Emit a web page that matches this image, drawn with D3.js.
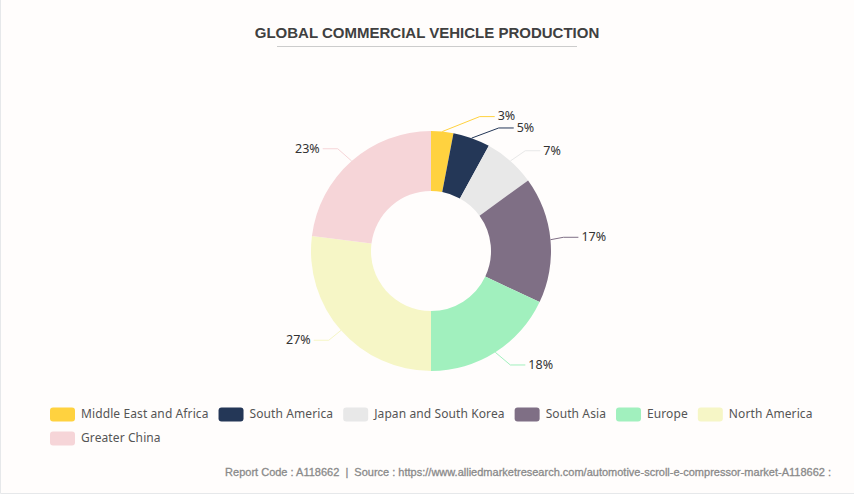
<!DOCTYPE html>
<html lang="en">
<head>
    <meta charset="UTF-8">
    <title>Global Commercial Vehicle Production</title>
    <style>
        html, body {
            margin: 0;
            padding: 0;
            background-color: #FFFDFC;
        }
        svg { display: block; }
        text { font-family: 'Noto Sans', sans-serif; }
        #title { font-family: 'Liberation Sans', sans-serif; font-weight: bold; font-size: 15px; fill: #404040; }
        #source { font-family: 'Liberation Sans', sans-serif; font-size: 11px; fill: #8a8a8a; stroke: #8a8a8a; stroke-width: 0.3px; }
        .pct { font-size: 12.5px; fill: #333; }
        .legend-label { font-size: 12px; fill: #555; letter-spacing: 0.1px; }
    </style>
</head>
<body>
    <div id="graph"></div>
    <script src="https://d3js.org/d3.v7.min.js"></script>
    <script>
        const regions = ["Middle East and Africa", "South America", "Japan and South Korea", "South Asia", "Europe", "North America", "Greater China"];
        const shares = [3, 5, 7, 17, 18, 27, 23];
        const colors = ["#FFD23F", "#243757", "#E8E8E8", "#7F6F85", "#A1F0BE", "#F6F6C6", "#F6D5D8"];

        const width = 854, height = 494;
        const cx = 431, cy = 251, outer = 120, inner = 60;
        const lineOut = 15, lineFlat = 15;
        // leader knees pushed apart for the crowded small slices
        const nudge = {
            "Middle East and Africa": [36, 0],
            "South America": [22, 4],
            "Japan and South Korea": [5, 1],
            "South Asia": [-2, -1],
            "Europe": [7, 0],
            "North America": [-1, 0],
            "Greater China": [-4, -1]
        };

        const svg = d3.select("#graph").append("svg")
            .attr("width", width)
            .attr("height", height);

        // PAGE EDGE
        svg.append("path")
            .attr("d", `M0.5,0V${height - 0.5}H${width}`)
            .attr("fill", "none")
            .attr("stroke", "#E6E8EA");

        // TITLE
        svg.append("text")
            .attr("id", "title")
            .attr("x", 427)
            .attr("y", 38)
            .attr("text-anchor", "middle")
            .text("GLOBAL COMMERCIAL VEHICLE PRODUCTION");
        svg.append("line")
            .attr("x1", 277).attr("x2", 577)
            .attr("y1", 46.5).attr("y2", 46.5)
            .attr("stroke", "#CCCCCC");

        // DONUT
        const pie = d3.pie().sort(null).value(d => d.share);
        const slices = pie(regions.map((name, i) => ({name, share: shares[i], color: colors[i]})));
        const arc = d3.arc().innerRadius(inner).outerRadius(outer);
        const chart = svg.append("g").attr("transform", `translate(${cx},${cy})`);

        chart.selectAll(".slice")
            .data(slices).enter()
            .append("path")
            .attr("class", "slice")
            .attr("d", arc)
            .attr("fill", d => d.data.color);

        // LEADER LINES AND LABELS
        const onRadius = (d, r) => {
            const a = (d.startAngle + d.endAngle) / 2;
            return [r * Math.sin(a), -r * Math.cos(a)];
        };
        const layout = d => {
            const start = onRadius(d, outer);
            const knee = onRadius(d, outer + lineOut);
            const n = nudge[d.data.name] || [0, 0];
            knee[0] += n[0];
            knee[1] += n[1];
            const dir = start[0] >= 0 ? 1 : -1;
            return {start, knee, end: [knee[0] + dir * lineFlat, knee[1]], dir};
        };

        chart.selectAll(".leader")
            .data(slices).enter()
            .append("polyline")
            .attr("class", "leader")
            .attr("points", d => {
                const l = layout(d);
                return [l.start, l.knee, l.end].join(" ");
            })
            .attr("fill", "none")
            .attr("stroke", d => d.data.color);

        chart.selectAll(".pct")
            .data(slices).enter()
            .append("text")
            .attr("class", "pct")
            .attr("x", d => { const l = layout(d); return l.end[0] + l.dir * 3; })
            .attr("y", d => layout(d).end[1])
            .attr("dy", "0.3em")
            .attr("text-anchor", d => layout(d).dir > 0 ? "start" : "end")
            .text(d => d.data.share + "%");

        // LEGEND
        const legend = svg.append("g").attr("id", "legend");
        let lx = 50, ly = 407.5;
        regions.forEach((name, i) => {
            const item = legend.append("g");
            item.append("rect")
                .attr("width", 25).attr("height", 14).attr("rx", 3)
                .attr("fill", colors[i]);
            const label = item.append("text")
                .attr("class", "legend-label")
                .attr("x", 31).attr("y", 7).attr("dy", "0.33em")
                .text(name);
            const w = 31 + label.node().getComputedTextLength();
            if (lx + w > 820) { lx = 50; ly += 24; }
            item.attr("transform", `translate(${lx},${ly})`);
            lx += w + 10;
        });

        // SOURCE LINE
        svg.append("text")
            .attr("id", "source")
            .attr("x", 831)
            .attr("y", 476)
            .attr("text-anchor", "end")
            .attr("xml:space", "preserve")
            .text("Report Code : A118662  |  Source : https://www.alliedmarketresearch.com/automotive-scroll-e-compressor-market-A118662 :");
    </script>
</body>
</html>
